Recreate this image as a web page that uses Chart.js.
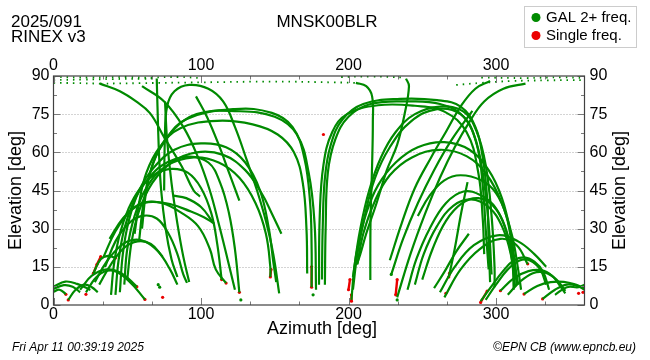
<!DOCTYPE html>
<html><head><meta charset="utf-8">
<script src="https://cdn.jsdelivr.net/npm/chart.js@4.4.1/dist/chart.umd.min.js"></script>
<style>html,body{margin:0;padding:0;background:#fff;}canvas{display:block;}</style>
</head><body>
<canvas id="c" width="650" height="360"></canvas>
<script>
// ---- Data: satellite tracks as [azimuth, elevation] pairs (degrees) ----
const azTicks = [0, 100, 200, 300];
const elTicks = [0, 15, 30, 45, 60, 75, 90];

const lowNorthEast = [
  [[0,7.2],[8,9.2],[16,8.3],[25,5.9]],
  [[0,6.3],[7,7.8],[13,7.2],[18,5]],
  [[0,5.2],[4,6],[8.4,4.3]],
  [[10,2],[15,6],[21,8],[26,7],[30,5]],
  [[18,6],[26,11.5],[36,14],[46,12.5],[56.5,7.2]],
  [[22,5],[30,11.5],[40,13.5],[51,9.5],[62,2.2]],
  [[27,12.4],[32,18],[37,19.3],[42,18.5]],
  [[28,9],[36,17],[45,23],[53,25.5],[62,25],[71,21],[79,14],[84,8]],
  [[31,8],[39,16],[48,22.5],[57,25],[66,24],[74,19]],
  [[35,15],[42,25],[51,32],[60,35],[70,34],[78,28],[84,20],[88,12],[90.5,8.7]]
];

const eastArcs = [
  [[39,4],[41,16],[45,28],[51,38],[59,46],[69,51.5],[80,53.5],[91,52],[100,46],[107,36],[111,24],[114,10]],
  [[42,4],[44,17],[48,30],[54,40],[62,48],[74,55],[91,58.3],[105,56],[113,48],[119,36],[123,22],[126,5]],
  [[45,5],[47,20],[51,33],[58,45],[68,54],[82,61],[100,63.5],[117,62],[130,56],[140,45],[146,30],[149,17],[151,9]],
  [[48,8],[50,22],[55,35],[63,46],[76,54.5],[95,58],[112,56],[126,50],[137,40],[144,28],[147,15],[147,11]],
  [[50,10],[53,25],[58,37],[67,48],[80,56],[97,60],[115,59],[130,53],[141,44],[148,36],[154.5,28]],
  [[34,19],[42,29],[52,37],[62,40.4],[74,40],[86,36.5],[98,31],[106,22],[110,14],[117,8.6]],
  [[38,26],[47,34],[57,39],[67,40.5],[80,39.5],[92,37],[102,34.5],[109,32]],
  [[81,43],[90,42],[100,38.5],[108,32.6]]
];

const zenithDescents = [
  [[70,89],[70.5,78],[71.5,60],[73,45],[76,30],[80,18],[84,11]],
  [[75.6,80],[77,65],[80,48],[84,32],[88,19],[92,9]],
  [[31.5,87],[45,84],[56,80],[65.4,75.4],[75,66],[87,54.4],[95,45],[99.3,42.6]],
  [[75,45],[75.5,65],[77,78],[82,84],[92,86.5],[105,85],[115,80],[123,70],[131,57],[138,45],[144,33],[149,20],[153,4.6]],
  [[96.6,82],[104,74],[112,63],[119,52],[126,41]],
  [[60,86],[75,80],[88,70],[98,58],[106,45],[112,32],[118,18],[123,6]]
];

const northVee = [
  [[55,28],[58,40],[63,52],[72,62],[86,69.5],[111,72.4],[135,71],[152,67],[163,60],[169,48],[171.5,30],[172,12.4]],
  [[58,25],[61,40],[66,53],[75,64],[90,73],[123,77],[148,75.5],[162,70],[170,58],[174,40],[175,22],[175,7]],
  [[60,30],[63,45],[69,58],[80,68],[97,75],[123,76.2],[150,74],[165,67],[173,52],[177,32],[178,6]],
  [[182,10],[182.5,30],[184,50],[188,63],[196,73],[210,79],[235,81],[260,80.5],[276,78],[286,70],[291,58],[294,42],[295,25],[296,9]],
  [[184,8],[184.5,30],[186,52],[191,65],[200,74],[215,79],[240,80],[262,79],[278,74],[287,63],[291,47],[293,30],[295,14]],
  [[180,8],[180.5,35],[183,55],[189,68],[199,75],[220,78.5],[245,78.3],[265,76],[280,68],[288,52],[291,34],[292,20]]
];

const westArcs = [
  [[202,2],[204,15],[208,30],[214,45],[222,58],[232,68],[245,75],[262,78],[278,76],[287,68],[293,55],[297,35],[299,15],[299,7]],
  [[203,6],[206,20],[211,35],[218,50],[228,62],[242,72],[260,77],[276,75],[285,67],[291,52],[295,32],[297,12]],
  [[203,11],[206,22],[212,36],[220,47],[232,56],[247,62],[265,64],[282,61],[295,53],[304,42],[310,28],[313,15],[314,8]],
  [[206,16],[210,28],[218,41],[228,51],[243,58],[262,61],[280,58.5],[294,51],[304,40],[311,27],[315,14],[317,6]],
  [[247,35],[255,43],[265,49],[276,51],[290,49],[300,44],[307,35],[311,22],[313,10]],
  [[240,6],[246,18],[255,30],[266,40],[278,44.6],[290,43],[300,38],[307,29],[312,18],[315,8]],
  [[245,8],[251,20],[260,31],[271,39],[283,41.5],[295,38.5],[304,31],[310,20],[313,7]],
  [[250,10],[257,22],[266,33],[277,40],[288,42],[298,39],[306,31],[311,17],[312,6]],
  [[239,89],[241,86],[238,75],[233,63],[226,53],[219,40],[212,28],[208,20],[205.7,16]],
  [[205,87.3],[212,86],[216,82],[216.5,72],[216,55],[215,35],[214.8,20],[214.8,9.8]],
  [[228,17.6],[236,32],[245,46],[256,58],[266,68],[276,78],[286,85],[296,88]],
  [[233,3],[242,20],[252,36],[262,50],[272,62],[282,72],[292,80],[305,85],[320,87]],
  [[229,12],[237,26],[247,40],[258,53],[270,65],[284,76.3]],
  [[268,11],[272,22],[276,35],[280.7,48.3]],
  [[258,6.6],[265,13],[273,21],[281.6,28]]
];

const lowNorthWest = [
  [[262,5],[272,15],[285,23.5],[301,27.4],[315,25],[326,20],[334,15]],
  [[265,3],[276,14],[289,22],[303,26],[314,23.5],[321.5,16]],
  [[289.6,1.5],[296,6.6],[305,13.5],[312,17.5],[319,18.7],[326,17],[332,13],[336,6]],
  [[293,2],[300,8],[308,14],[316,17.5],[323,17.5],[330,14],[334,8]],
  [[303,5.6],[312,10.5],[322,13.3],[330.5,13.7],[338,11.5],[344,7],[347,4.6]],
  [[308,4],[316,9],[325,12.5],[333,12.8],[341,10],[347,5.5]],
  [[319,4.3],[328,7.5],[337,9],[346,9.1],[354,8],[360,6.5]],
  [[331.6,2.4],[340,6],[348,8],[355,7.5],[360,6]],
  [[340,4],[348,7],[356,7],[360,8]]
];

const zenithDotted = [
  [[0,88.4],[20,88.6],[40,88.8],[60,88.9],[70,89]],
  [[0,87.3],[15,87.2],[31.5,87]],
  [[31.5,87],[60,87.2],[100,87.5],[150,87.8],[190,87.5],[205,87.3]],
  [[273,86.5],[290,87.3],[310,88],[335,88.3],[360,88.4]],
  [[290,89.4],[320,89.2],[345,89.5],[360,89.2]],
  [[0,89.6],[25,89.4],[50,89.6],[68,89.2]],
  [[66,89.4],[85,89.6],[100,89.2]],
  [[195,89.6],[215,89.8],[238,89.4]]
];

const singleFreq = [
  [[27,12.4],[29.5,16],[32,19]], [[42,18.5]], [[8.4,4.2]], [[10,2]], [[22,4.2]],
  [[56.5,7.2]], [[62,2.2]], [[74,3]], [[114,10]], [[117,8.6]], [[126,5]],
  [[147,11],[147.5,14]], [[175,7],[175,15]], [[183,67]], [[200,6],[201,10]],
  [[202,1.5],[202,4]], [[232,4],[233,10]], [[266,4.6]], [[268,11],[268.5,12.5]],
  [[289.6,1],[294,5.5]], [[303,5.6]], [[312,15]], [[321.5,16.2]], [[319,4.3]],
  [[331.6,2.4]], [[356,4.6]], [[359,5]]
];

const isolatedDots = [[71,8],[72,7],[127,2],[229,12],[233,2],[176,4]];

// ---- Build datasets ----
const GREEN = 'rgb(0,138,0)';
const RED = 'rgb(235,0,0)';
const toXY = t => t.map(([x, y]) => ({x, y}));
const datasets = [];
[lowNorthEast, eastArcs, zenithDescents, northVee, westArcs, lowNorthWest].forEach(group => {
  group.forEach(track => datasets.push({
    data: toXY(track), showLine: true, tension: 0.4, borderColor: GREEN,
    borderWidth: 2.2, pointRadius: 0, fill: false
  }));
});
zenithDotted.forEach(track => datasets.push({
  data: toXY(track), showLine: true, tension: 0.4, borderColor: GREEN,
  borderWidth: 1.8, borderDash: [1.5, 5], pointRadius: 0, fill: false
}));
datasets.push({
  data: toXY(isolatedDots), showLine: false, pointRadius: 1.6,
  pointBackgroundColor: GREEN, pointBorderWidth: 0
});
singleFreq.forEach(track => datasets.push({
  data: toXY(track), showLine: track.length > 1, tension: 0, borderColor: RED,
  borderWidth: 2.4, pointRadius: 1.6, pointBackgroundColor: RED, pointBorderWidth: 0
}));

const FONT = '"Liberation Sans", Arial, sans-serif';

const decor = {
  id: 'decor',
  beforeDatasetsDraw(chart) {
    const {ctx, chartArea: a, scales: {x, y}} = chart;
    ctx.save();
    ctx.strokeStyle = '#a8a8a8';
    ctx.lineWidth = 1;
    ctx.setLineDash([1, 2]);
    elTicks.filter(v => v > 0 && v < 90).forEach(v => {
      const py = Math.round(y.getPixelForValue(v)) + 0.5;
      ctx.beginPath(); ctx.moveTo(a.left, py); ctx.lineTo(a.right, py); ctx.stroke();
    });
    ctx.restore();
  },
  afterDraw(chart) {
    const {ctx, chartArea: a, scales: {x, y}} = chart;
    ctx.save();
    // inward ticks
    ctx.strokeStyle = '#7a7a7a';
    ctx.lineWidth = 1;
    for (let i = 0; i <= 10; i++) {
      const v = i * 100 / 3;
      if (v > 360) break;
      const px = Math.round(x.getPixelForValue(v)) + 0.5;
      const len = (i % 3 === 0) ? 7 : 3.5;
      ctx.beginPath();
      ctx.moveTo(px, a.bottom); ctx.lineTo(px, a.bottom - len);
      ctx.moveTo(px, a.top); ctx.lineTo(px, a.top + len);
      ctx.stroke();
    }
    for (let i = 0; i <= 12; i++) {
      const v = i * 7.5;
      const py = Math.round(y.getPixelForValue(v)) + 0.5;
      const len = (i % 2 === 0) ? 7 : 3.5;
      ctx.beginPath();
      ctx.moveTo(a.left, py); ctx.lineTo(a.left + len, py);
      ctx.moveTo(a.right, py); ctx.lineTo(a.right - len, py);
      ctx.stroke();
    }
    // border box
    ctx.strokeStyle = '#404040';
    ctx.lineWidth = 1.2;
    ctx.strokeRect(a.left, a.top, a.right - a.left, a.bottom - a.top);

    // tick labels
    ctx.fillStyle = '#000';
    ctx.font = '16px ' + FONT;
    ctx.textAlign = 'center';
    ctx.textBaseline = 'middle';
    azTicks.forEach(v => {
      const px = x.getPixelForValue(v);
      ctx.fillText(String(v), px, a.bottom + 10);
      ctx.fillText(String(v), px, a.top - 10);
    });
    ctx.textAlign = 'right';
    elTicks.forEach(v => ctx.fillText(String(v), a.left - 4, y.getPixelForValue(v)));
    ctx.textAlign = 'left';
    elTicks.forEach(v => ctx.fillText(String(v), a.right + 5, y.getPixelForValue(v)));

    // axis titles
    const cy = (a.top + a.bottom) / 2;
    ctx.font = '18px ' + FONT;
    ctx.textAlign = 'center';
    ctx.fillText('Azimuth [deg]', 322, 329);
    [16, 620].forEach(cx => {
      ctx.save();
      ctx.translate(cx, cy);
      ctx.rotate(-Math.PI / 2);
      ctx.fillText('Elevation [deg]', 0, 0);
      ctx.restore();
    });

    // header texts
    ctx.font = '17px ' + FONT;
    ctx.textAlign = 'left';
    ctx.fillText('2025/091', 11, 22);
    ctx.fillText('RINEX v3', 11, 37);
    ctx.textAlign = 'center';
    ctx.fillText('MNSK00BLR', 327, 22);

    // legend
    ctx.fillStyle = '#fff';
    ctx.fillRect(524.5, 6.5, 112, 41);
    ctx.strokeStyle = '#cccccc';
    ctx.lineWidth = 1;
    ctx.strokeRect(524.5, 6.5, 112, 41);
    ctx.fillStyle = GREEN;
    ctx.beginPath(); ctx.arc(536, 17.5, 4.5, 0, Math.PI * 2); ctx.fill();
    ctx.fillStyle = RED;
    ctx.beginPath(); ctx.arc(536, 35.5, 4.5, 0, Math.PI * 2); ctx.fill();
    ctx.fillStyle = '#000';
    ctx.font = '15px ' + FONT;
    ctx.textAlign = 'left';
    ctx.fillText('GAL 2+ freq.', 546, 17.5);
    ctx.fillText('Single freq.', 546, 35.5);

    // footer
    ctx.font = 'italic 12px ' + FONT;
    ctx.fillText('Fri Apr 11 00:39:19 2025', 12, 348);
    ctx.textAlign = 'right';
    ctx.fillText('\u00A9EPN CB (www.epncb.eu)', 636, 348);
    ctx.restore();
  }
};

new Chart(document.getElementById('c'), {
  type: 'scatter',
  data: { datasets },
  options: {
    responsive: false,
    animation: false,
    devicePixelRatio: 1,
    layout: { padding: { left: 53.5, right: 65.5, top: 76, bottom: 55 } },
    plugins: { legend: { display: false }, tooltip: { enabled: false } },
    scales: {
      x: { type: 'linear', min: 0, max: 360, display: false },
      y: { type: 'linear', min: 0, max: 90, display: false }
    }
  },
  plugins: [decor]
});
</script>
</body></html>
